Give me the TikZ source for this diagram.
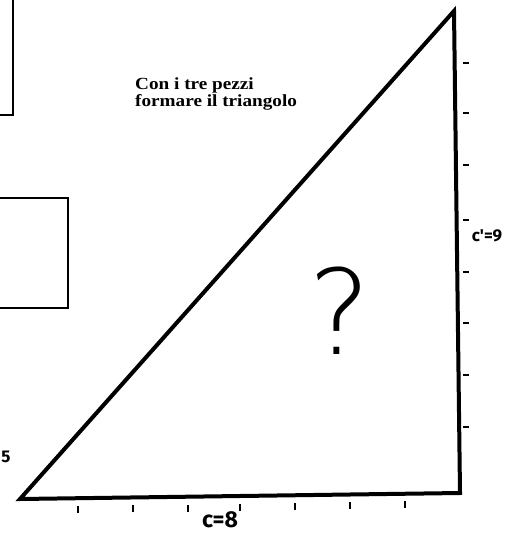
\documentclass[tikz,border=0pt]{standalone}
\usepackage{fontspec}
\setmainfont{Liberation Serif}
\newfontfamily\printfont[FakeStretch=1.13]{Liberation Serif}
\newfontfamily\handfont{Fira Sans}
\newfontfamily\qmarkfont{DejaVu Sans ExtraLight}

\begin{document}
\begin{tikzpicture}[x=1pt,y=-1pt]
\useasboundingbox (0,0) rectangle (510,534);
\tikzset{
  piece/.style={draw=black, line width=2.4pt},
  tri/.style={draw=black, line width=4pt, line join=miter},
  tick/.style={draw=black, line width=1.3pt},
  hand/.style={font=\handfont\bfseries\fontsize{#1}{#1}\selectfont, inner sep=0pt}
}
% the two pieces on the left
\draw[piece] (-30,-30) rectangle (13,115);
\draw[piece] (-30,198) rectangle (68,308);
% the triangle
\coordinate (A) at (20,499);
\coordinate (B) at (460,493);
\coordinate (C) at (454,11);
\draw[tri] (A) -- (B) -- (C) -- cycle;
% marks on the two legs
\foreach \x/\y in {78/506, 133/505, 188/505, 240/504, 295/503, 350/502, 405/501}
  \draw[tick] (\x,\y) -- (\x,\y+7);
\foreach \y in {63,113,165,220,272,323,375,427}
  \draw[tick] (463,\y) -- (469,\y);
\node[font=\printfont\bfseries\fontsize{17}{16.7}\selectfont, align=left, anchor=north west, inner sep=0pt]
  (task) at (135,77.5) {Con i tre pezzi\\formare il triangolo};
\node[hand=23] (leg1) at (220,520) {c=8};
\node[hand=17] (leg2) at (487,236) {c'=9};
\node[hand=17] (side) at (6,457) {5};
\node[font=\qmarkfont\fontsize{118}{118}\selectfont, inner sep=0pt] (qmark) at (340,311) {?};
\end{tikzpicture}
\end{document}
